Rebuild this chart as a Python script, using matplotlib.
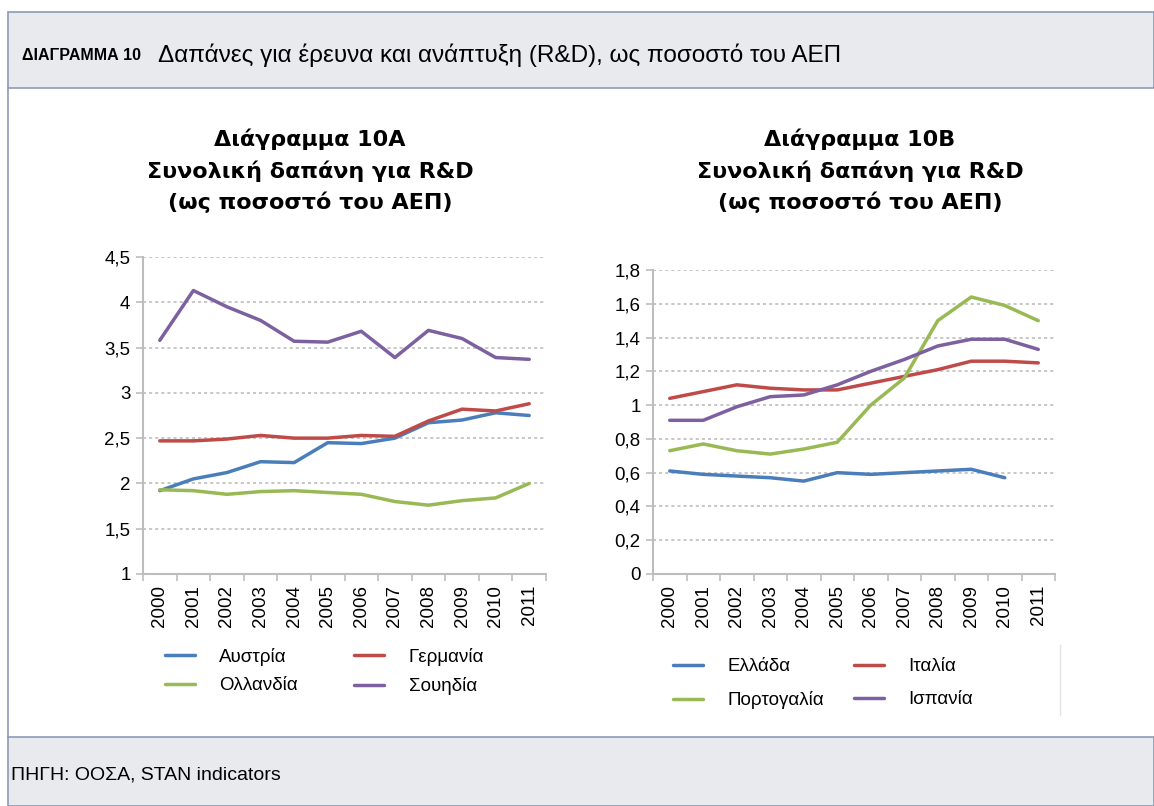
import matplotlib
matplotlib.use("Agg")
from matplotlib import pyplot as plt
from matplotlib.patches import Rectangle
from matplotlib.lines import Line2D

years = [str(y) for y in range(2000, 2012)]

# Diagram 10A
austria = [1.92, 2.05, 2.12, 2.24, 2.23, 2.45, 2.44, 2.50, 2.67, 2.70, 2.78, 2.75]
germany = [2.47, 2.47, 2.49, 2.53, 2.50, 2.50, 2.53, 2.52, 2.69, 2.82, 2.80, 2.88]
netherlands = [1.93, 1.92, 1.88, 1.91, 1.92, 1.90, 1.88, 1.80, 1.76, 1.81, 1.84, 2.00]
sweden = [3.58, 4.13, 3.95, 3.80, 3.57, 3.56, 3.68, 3.39, 3.69, 3.60, 3.39, 3.37]

# Diagram 10B (Greece has no 2011 value)
greece = [0.61, 0.59, 0.58, 0.57, 0.55, 0.60, 0.59, 0.60, 0.61, 0.62, 0.57, None]
italy = [1.04, 1.08, 1.12, 1.10, 1.09, 1.09, 1.13, 1.17, 1.21, 1.26, 1.26, 1.25]
portugal = [0.73, 0.77, 0.73, 0.71, 0.74, 0.78, 1.00, 1.16, 1.50, 1.64, 1.59, 1.50]
spain = [0.91, 0.91, 0.99, 1.05, 1.06, 1.12, 1.20, 1.27, 1.35, 1.39, 1.39, 1.33]

left_yticks = [1, 1.5, 2, 2.5, 3, 3.5, 4, 4.5]
right_yticks = [0, 0.2, 0.4, 0.6, 0.8, 1, 1.2, 1.4, 1.6, 1.8]

BLUE = "#4a7ebb"
RED = "#be4b48"
GREEN = "#98b954"
PURPLE = "#7d60a0"

TICKFONT = ["Liberation Sans", "DejaVu Sans"]
NARROW = ["Liberation Sans Narrow", "Liberation Sans", "DejaVu Sans"]

W, H = 1154, 806
fig = plt.figure(figsize=(W / 100, H / 100), dpi=100)

def px(x, y):
    return x / W, 1 - y / H

# background bands
band = "#e9eaee"
edge = "#8c9bb5"
fig.patches.append(Rectangle(px(8, 88), (W - 8) / W, 76 / H, transform=fig.transFigure,
                             facecolor=band, edgecolor=edge, lw=1.2))
fig.patches.append(Rectangle(px(8, 806), (W - 8) / W, 69 / H, transform=fig.transFigure,
                             facecolor=band, edgecolor=edge, lw=1.2))
fig.lines.append(Line2D([8 / W, 8 / W], [1 - 88 / H, 1 - 737 / H], transform=fig.transFigure,
                        color=edge, lw=1.2))
# faint border of the right chart area
fig.lines.append(Line2D([1060 / W, 1060 / W], [1 - 645 / H, 1 - 715 / H], transform=fig.transFigure,
                        color="#e4e4e4", lw=1))

fig.text(*px(22, 55), "ΔΙΑΓΡΑΜΜΑ 10", fontsize=11.5, fontweight="bold", family=NARROW,
         va="center", ha="left")
fig.text(*px(158, 55), "Δαπάνες για έρευνα και ανάπτυξη (R&D), ως ποσοστό του ΑΕΠ",
         fontsize=17.5, family=NARROW, va="center", ha="left")
fig.text(*px(11, 775), "ΠΗΓΗ: ΟΟΣΑ, STAN indicators", fontsize=14, family=NARROW,
         va="center", ha="left")


def fmt(v):
    s = ("%g" % v).replace(".", ",")
    return s


def make_chart(rect, title, title_x, series, names, colors, yticks, ylim,
               leg_xy, labelspacing, colspacing):
    ax = fig.add_axes(rect)
    x = list(range(len(years)))
    handles = []
    for vals, name, c in zip(series, names, colors):
        xs = [i for i, v in zip(x, vals) if v is not None]
        ys = [v for v in vals if v is not None]
        h, = ax.plot(xs, ys, color=c, lw=2.5, label=name, solid_capstyle="round")
        handles.append(h)
    ax.set_xlim(-0.5, len(years) - 0.5)
    ax.set_ylim(*ylim)
    ax.set_yticks(yticks)
    ax.set_yticklabels([fmt(v) for v in yticks], family=TICKFONT, fontsize=13.5)
    ax.set_xticks([i - 0.5 for i in range(len(years) + 1)])
    ax.set_xticklabels([])
    ax.set_xticks(x, minor=True)
    ax.set_xticklabels(years, minor=True, rotation=90, family=TICKFONT, fontsize=13.5)
    ax.tick_params(axis="x", which="major", length=5, color="#bdbdbd", width=1.2)
    ax.tick_params(axis="x", which="minor", length=0, pad=8)
    ax.tick_params(axis="y", length=5, color="#bdbdbd", width=1.2, pad=4)
    for t in yticks[1:]:
        ax.axhline(t, color="#b8b8b8", lw=1.1, ls=(0, (2, 2)), zorder=0)
    for s in ["top", "right"]:
        ax.spines[s].set_visible(False)
    for s in ["left", "bottom"]:
        ax.spines[s].set_color("#bdbdbd")
        ax.spines[s].set_linewidth(1.5)
    fig.text(title_x / W, 1 - 171 / H, title, ha="center", va="center", fontsize=16,
             fontweight="bold", family="DejaVu Sans", linespacing=1.58)
    # row-major order: 1st, 3rd in column one; 2nd, 4th in column two
    order = [0, 2, 1, 3]
    fig.legend([handles[i] for i in order], [names[i] for i in order], ncol=2,
               loc="upper left", bbox_to_anchor=px(*leg_xy), frameon=False,
               prop={"family": TICKFONT, "size": 13.5}, handlelength=1.6,
               columnspacing=colspacing, handletextpad=1.3, labelspacing=labelspacing,
               borderpad=0, borderaxespad=0)
    return ax


make_chart([143 / W, 1 - 574 / H, 403 / W, 317 / H],
           "Διάγραμμα 10Α\nΣυνολική δαπάνη για R&D\n(ως ποσοστό του ΑΕΠ)", 310,
           [austria, germany, netherlands, sweden],
           ["Αυστρία", "Γερμανία", "Ολλανδία", "Σουηδία"],
           [BLUE, RED, GREEN, PURPLE], left_yticks, (1, 4.5), (165, 648), 0.6, 3.0)

make_chart([653 / W, 1 - 574 / H, 402 / W, 304 / H],
           "Διάγραμμα 10Β\nΣυνολική δαπάνη για R&D\n(ως ποσοστό του ΑΕΠ)", 860,
           [greece, italy, portugal, spain],
           ["Ελλάδα", "Ιταλία", "Πορτογαλία", "Ισπανία"],
           [BLUE, RED, GREEN, PURPLE], right_yticks, (0, 1.8), (673, 658), 0.85, 1.6)

fig.savefig("out.png", dpi=100)
